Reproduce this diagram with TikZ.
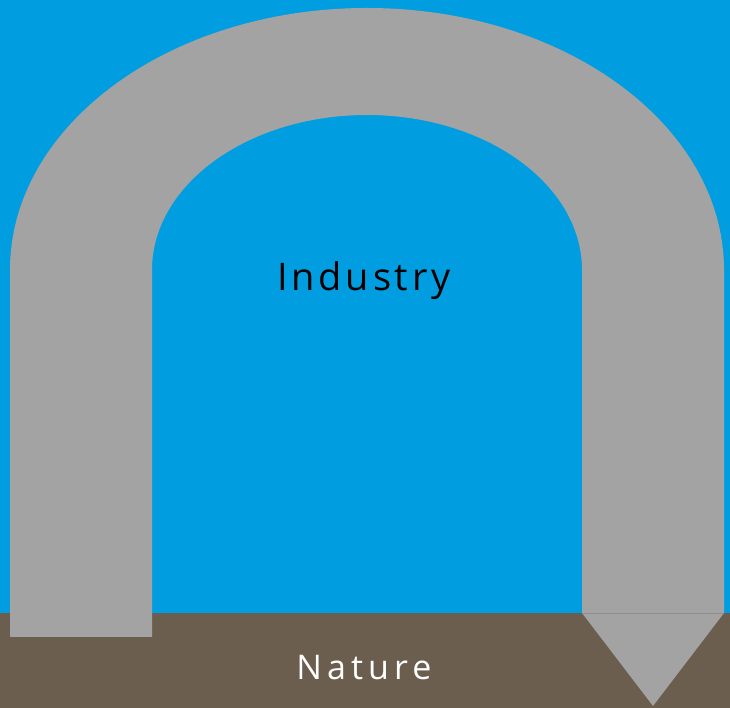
\documentclass[tikz,border=0pt]{standalone}
\usepackage{fontspec}
\setmainfont{Open Sans}
\definecolor{skyblue}{HTML}{009EE0}
\definecolor{archgray}{HTML}{A3A3A3}
\definecolor{earth}{HTML}{6B5E4F}
\definecolor{edgegray}{HTML}{8E8E8E}
\tikzset{
  archfill/.style={fill=archgray, draw=none},
  label/.style={inner sep=0pt, anchor=base}
}
\begin{document}
\begin{tikzpicture}[x=1pt,y=1pt]
\useasboundingbox (0,0) rectangle (730,708);
\fill[skyblue] (0,0) rectangle (730,708);
\fill[earth] (0,0) rectangle (730,95);
\path[archfill] (10,71) -- (10,438) arc[start angle=180, end angle=0, x radius=357, y radius=262]
  -- (724,95) -- (582,95) -- (582,438) arc[start angle=0, end angle=180, x radius=215, y radius=155]
  -- (152,71) -- cycle;
\coordinate (tl) at (582,95);
\coordinate (tr) at (724,95);
\coordinate (tip) at (653,2);
\path[archfill] (tl) -- (tr) -- (tip) -- cycle;
\draw[edgegray, line width=0.8pt] (tl) -- (tr);
\node[label, font=\fontsize{38}{40}\selectfont\addfontfeatures{LetterSpace=10}] (industry) at (364,417) {Industry};
\node[label, text=white, font=\fontsize{34}{36}\selectfont\addfontfeatures{LetterSpace=15}] (nature) at (364,28) {Nature};
\end{tikzpicture}
\end{document}
